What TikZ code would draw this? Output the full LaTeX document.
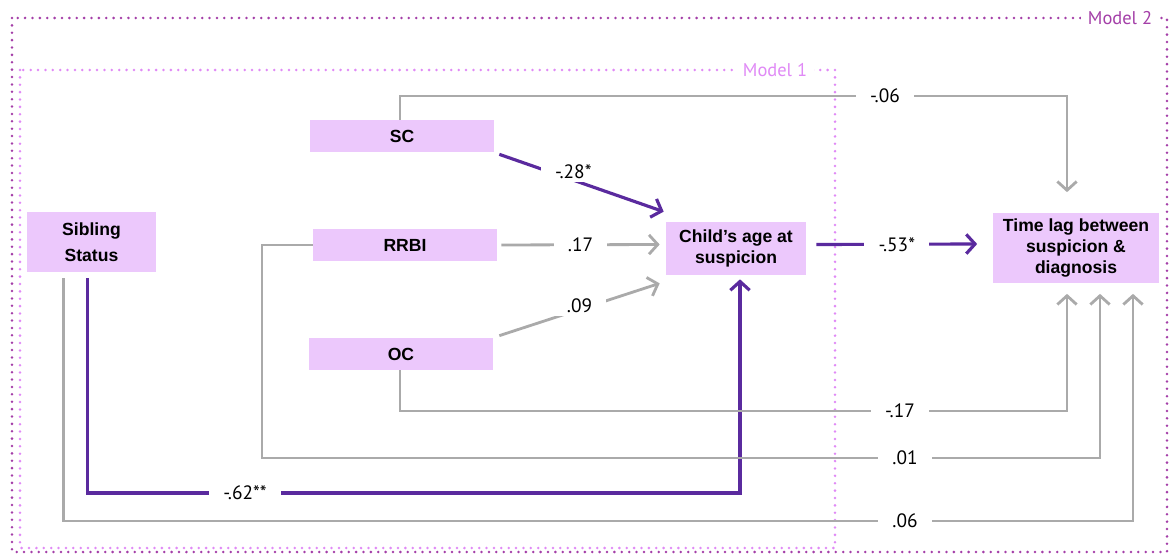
\documentclass[tikz,border=0pt]{standalone}
\usepackage{fontspec}
\setmainfont{Liberation Sans}
\newfontfamily\coeffont{PT Sans}
\usetikzlibrary{arrows.meta,positioning,calc}
\definecolor{boxfill}{HTML}{ECC8FC}
\definecolor{pathgray}{HTML}{AAAAAA}
\definecolor{pathsig}{HTML}{5A2A9E}
\definecolor{modelA}{HTML}{E08AF6}
\definecolor{modelB}{HTML}{A43FA8}
\tikzset{
  varbox/.style={fill=boxfill,font=\bfseries\fontsize{10}{12}\selectfont,
    align=center,inner sep=2pt},
  nsig/.style={pathgray,line width=1.6pt,
    -{Straight Barb[length=5pt,width=11pt,line width=1.6pt]}},
  sig/.style={pathsig,line width=1.8pt,
    -{Straight Barb[length=5pt,width=11pt,line width=1.8pt]}},
  coef/.style={fill=white,text=black,inner xsep=8pt,inner ysep=2pt,
    font=\coeffont\fontsize{11}{12}\selectfont},
  frame/.style={line width=1.6pt,line cap=round,dash pattern=on 0pt off 4.2pt},
  framelabel/.style={fill=white,inner xsep=4pt,font=\coeffont\fontsize{10.5}{12}\selectfont}
}
\begin{document}
\begin{tikzpicture}[x=0.02cm,y=-0.02cm]
  \useasboundingbox (0,0) rectangle (1173,560);
  % model frames
  \draw[frame,modelB] (12,18) rectangle (1167,552);
  \node[framelabel,text=modelB] (mtwo) at (1120,18) {Model 2};
  \draw[frame,modelA] (20,70) rectangle (835,548);
  \node[framelabel,text=modelA] (mone) at (775,70) {Model 1};
  % variables
  \node[varbox,minimum width=3.68cm,minimum height=0.64cm] (sc) at (402,136) {SC};
  \node[varbox,minimum width=3.68cm,minimum height=0.64cm] (rrbi) at (405,245) {RRBI};
  \node[varbox,minimum width=3.68cm,minimum height=0.64cm] (oc) at (401,354) {OC};
  \node[varbox,minimum width=2.58cm,minimum height=1.2cm] (sib) at (91.5,242)
    {Sibling\\[3pt]Status};
  \node[varbox,minimum width=2.8cm,minimum height=1.06cm] (age) at (736,248.5)
    {Child’s age at\\suspicion};
  \node[varbox,minimum width=3.34cm,minimum height=1.42cm] (lag) at (1076,248)
    {Time lag between\\suspicion \&\\diagnosis};
  % paths to child's age at suspicion
  \draw[sig] ($(sc.south east)+(5,2)$) -- ($(age.north west)+(-2,-10)$)
    node[coef,pos=0.45,yshift=5pt] {-.28*};
  \draw[nsig] ($(rrbi.east)+(4,0)$) -- ($(age.west)+(-6,-4)$)
    node[coef,midway] {.17};
  \draw[nsig] ($(oc.north east)+(6,-2)$) -- ($(age.south west)+(-6,8)$)
    node[coef,midway,yshift=2pt] {.09};
  \draw[sig] ($(sib.south)+(-4,6)$) |- (245,493) node[coef] {-.62**}
    -| ($(age.south)+(4,4)$);
  % paths to time lag
  \draw[sig] ($(age.east)+(10,-4)$) -- ($(lag.west)+(-15,-4)$)
    node[coef,midway] {-.53*};
  \draw[nsig] (sc.north -| 400,0) |- (885,96) node[coef] {-.06}
    -| ($(lag.north)+(-9,-20)$);
  \draw[nsig] (oc.south -| 400,0) |- (900,411) node[coef] {-.17}
    -| ($(lag.south)+(-9,10)$);
  \draw[nsig] (rrbi.west) -| (262,458) -- (905,458) node[coef] {.01}
    -| ($(lag.south)+(24,10)$);
  \draw[nsig] ($(sib.south)+(-28,6)$) |- (905,521) node[coef] {.06}
    -| ($(lag.south)+(57,10)$);
\end{tikzpicture}
\end{document}
